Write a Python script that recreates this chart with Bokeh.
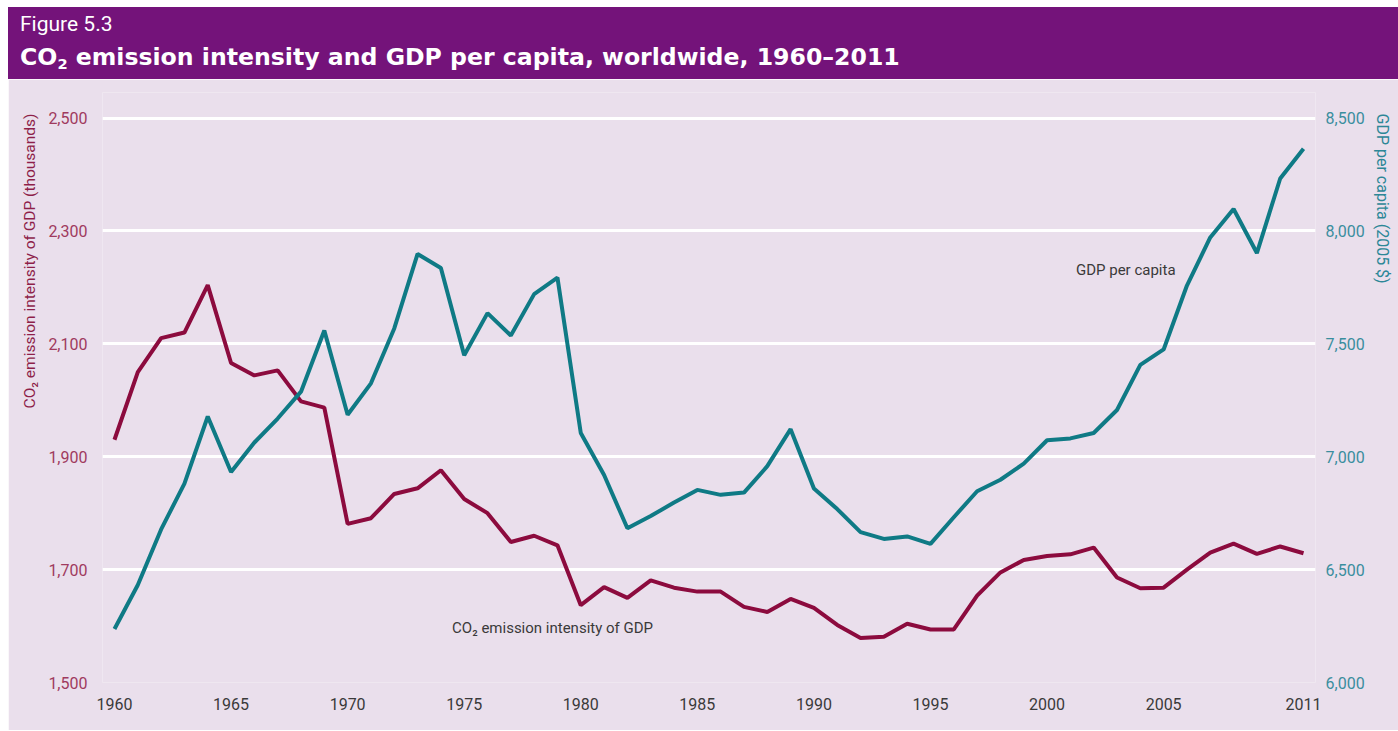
from bokeh.plotting import figure
from bokeh.models import Range1d, LinearAxis, FixedTicker, Label, NumeralTickFormatter, Title, Div
from bokeh.layouts import column
from bokeh.embed import file_html
from bokeh.resources import INLINE

# ---- data ----
years = list(range(1960, 2012))
co2_intensity = [1930, 2050, 2110, 2120, 2204, 2066, 2044, 2053, 1998, 1987,
                 1781, 1791, 1834, 1844, 1876, 1825, 1800, 1749, 1760, 1743,
                 1637, 1669, 1650, 1681, 1668, 1661, 1661, 1634, 1625, 1648,
                 1632, 1602, 1579, 1581, 1604, 1594, 1594, 1654, 1695, 1717,
                 1724, 1727, 1739, 1686, 1667, 1668, 1700, 1730, 1746, 1728,
                 1741, 1729]
gdp_per_capita = [6237, 6432, 6678, 6881, 7178, 6932, 7063, 7169, 7288, 7559,
                  7186, 7325, 7568, 7898, 7836, 7449, 7636, 7537, 7720, 7793,
                  7105, 6919, 6683, 6737, 6797, 6853, 6831, 6841, 6958, 7122,
                  6859, 6768, 6666, 6636, 6647, 6614, 6732, 6847, 6898, 6969,
                  7073, 7081, 7105, 7207, 7407, 7475, 7758, 7971, 8097, 7902,
                  8232, 8364]
left_ticks = [1500, 1700, 1900, 2100, 2300, 2500]
right_ticks = [6000, 6500, 7000, 7500, 8000, 8500]
year_ticks = [1960, 1965, 1970, 1975, 1980, 1985, 1990, 1995, 2000, 2005, 2011]

# ---- style ----
W = 1390
PURPLE = "#74137A"
LAV = "#EADFEC"
RED = "#8C0B3E"
TEAL = "#0F7A85"
FONT = "Roboto"
BL, BR = 94, 81  # left / right borders of the chart frame

# ---- header banner ----
hdr_html = (
    f'<div style="position:relative;width:{W}px;height:72px;background:{PURPLE};overflow:hidden;">'
    '<div style="position:absolute;left:12px;top:7px;font-family:Roboto;font-size:21px;'
    'line-height:1;color:white;white-space:nowrap;">Figure 5.3</div>'
    '<div style="position:absolute;left:12px;top:39px;font-family:\'DejaVu Sans\';font-weight:bold;'
    'font-size:23.6px;line-height:1;color:white;white-space:nowrap;">CO<span style="font-size:0.62em;'
    'position:relative;top:0.3em;">2</span> emission intensity and GDP per capita, worldwide, 1960\u20132011</div>'
    '</div>'
)
hdr = Div(text=hdr_html, width=W, height=72, margin=0)

# ---- chart ----
p = figure(width=W, height=651,
           x_range=Range1d(1959.486, 2011.514), y_range=Range1d(1500, 2545.2),
           output_backend="svg", toolbar_location=None,
           min_border_left=BL, min_border_right=BR, min_border_top=13, min_border_bottom=48,
           background_fill_color=LAV, border_fill_color=LAV, outline_line_color=None)
p.extra_y_ranges = {"gdp": Range1d(6000, 8613)}

p.xgrid.visible = False
p.ygrid.ticker = FixedTicker(ticks=left_ticks)
p.ygrid.grid_line_color = "white"
p.ygrid.grid_line_width = 3

# left axis
ya = p.yaxis[0]
ya.ticker = FixedTicker(ticks=left_ticks)
ya.formatter = NumeralTickFormatter(format="0,0")
ya.axis_line_color = None
ya.major_tick_line_color = None
ya.minor_tick_line_color = None
ya.major_label_standoff = 9
ya.major_label_text_color = "#A03A5E"
ya.major_label_text_font = FONT
ya.major_label_text_font_size = "16px"

# right axis
ra = LinearAxis(y_range_name="gdp", ticker=FixedTicker(ticks=right_ticks),
                formatter=NumeralTickFormatter(format="0,0"))
ra.axis_line_color = None
ra.major_tick_line_color = None
ra.minor_tick_line_color = None
ra.major_label_standoff = 4
ra.major_label_text_color = "#3A8E9E"
ra.major_label_text_font = FONT
ra.major_label_text_font_size = "16px"
p.add_layout(ra, "right")

# bottom axis
xa = p.xaxis[0]
xa.ticker = FixedTicker(ticks=year_ticks)
xa.formatter = NumeralTickFormatter(format="0")
xa.axis_line_color = None
xa.major_tick_line_color = None
xa.minor_tick_line_color = None
xa.major_label_standoff = 9
xa.major_label_text_color = "#3A3A3A"
xa.major_label_text_font = FONT
xa.major_label_text_font_size = "16px"

# series
p.line(years, co2_intensity, line_color=RED, line_width=4)
p.line(years, gdp_per_capita, line_color=TEAL, line_width=4, y_range_name="gdp")

# axis titles (as side titles, top-aligned)
p.add_layout(Title(text="CO\u2082 emission intensity of GDP (thousands)", align="right", offset=21,
                   text_color="#8E1F4A", text_font=FONT, text_font_size="15.5px",
                   text_font_style="normal", standoff=14), "left")
p.add_layout(Title(text="GDP per capita (2005 $)", align="left", offset=21,
                   text_color="#2C8797", text_font=FONT, text_font_size="16px",
                   text_font_style="normal", standoff=10), "right")

# series annotations
p.add_layout(Label(x=2001.24, y=2229.9, text="GDP per capita",
                   text_align="left", text_baseline="middle",
                   text_color="#3A3A3A", text_font=FONT, text_font_size="15px"))
p.add_layout(Label(x=1974.48, y=1595.7, text="CO\u2082 emission intensity of GDP",
                   text_align="left", text_baseline="middle",
                   text_color="#3A3A3A", text_font=FONT, text_font_size="15px"))

layout = column(hdr, p, spacing=0, margin=(7, 0, 0, 8))
open("out.html", "w").write(file_html(layout, INLINE))
